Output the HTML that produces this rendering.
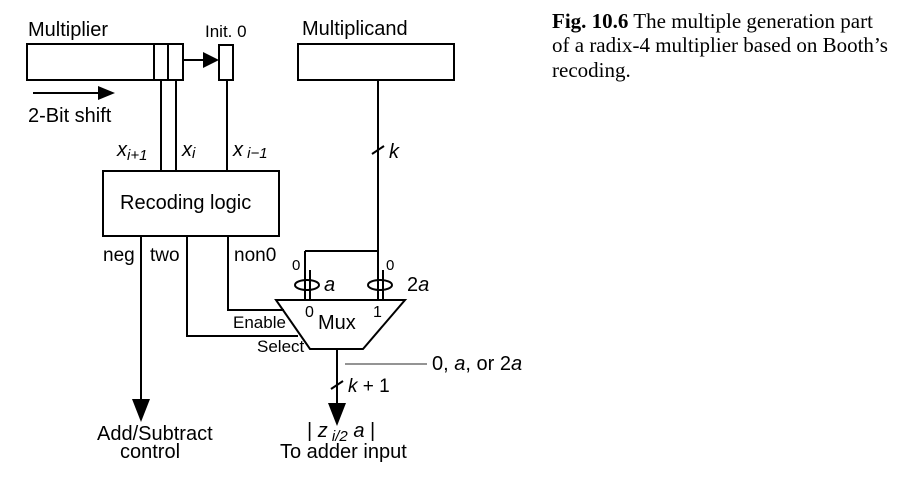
<!DOCTYPE html>
<html><head><meta charset="utf-8"><style>
body{margin:0;background:#fff;width:918px;height:473px;overflow:hidden}
svg text{font-family:"Liberation Sans",sans-serif;fill:#000}
.i{font-style:italic}
.cap{font-family:"Liberation Serif",serif;font-size:21px}
</style></head><body>
<svg width="918" height="473" viewBox="0 0 918 473" xmlns="http://www.w3.org/2000/svg">
<g fill="none" stroke="#000" stroke-width="2">
<rect x="27" y="44" width="156" height="36"/>
<line x1="154" y1="44" x2="154" y2="80"/>
<line x1="168" y1="44" x2="168" y2="80"/>
<rect x="219" y="45" width="14" height="35"/>
<line x1="183" y1="60" x2="205" y2="60"/>
<rect x="298" y="44" width="156" height="36"/>
<line x1="33" y1="93" x2="98" y2="93"/>
<line x1="161" y1="80" x2="161" y2="171"/>
<line x1="176" y1="80" x2="176" y2="171"/>
<line x1="227" y1="80" x2="227" y2="171"/>
<rect x="103" y="171" width="176" height="65"/>
<line x1="378" y1="80" x2="378" y2="300"/>
<line x1="305" y1="251" x2="378" y2="251"/>
<line x1="305" y1="251" x2="305" y2="300"/>
<line x1="310" y1="270" x2="310" y2="300"/>
<line x1="383" y1="270" x2="383" y2="300"/>
<line x1="141" y1="236" x2="141" y2="400"/>
<polyline points="187,236 187,336 298,336"/>
<polyline points="228,236 228,310 284,310"/>
<polygon points="276,300 405,300 363,349 310,349"/>
<line x1="337" y1="349" x2="337" y2="404"/>
<ellipse cx="307" cy="285" rx="12" ry="5"/>
<ellipse cx="380" cy="285" rx="12" ry="5"/>
<line x1="372" y1="154" x2="384" y2="146"/>
<line x1="331" y1="389" x2="343" y2="381"/>
</g>
<line x1="345" y1="364" x2="427" y2="364" stroke="#555" stroke-width="1.2"/>
<polygon points="98,86 115,93 98,100" fill="#000"/>
<polygon points="203,52 219,60 203,68" fill="#000"/>
<polygon points="132,399 150,399 141,422" fill="#000"/>
<polygon points="328,403 346,403 337,426" fill="#000"/>
<g font-size="20">
<text x="28" y="36">Multiplier</text>
<text x="205" y="37" font-size="17">Init. 0</text>
<text x="302" y="35">Multiplicand</text>
<text x="28" y="122">2-Bit shift</text>
<text x="120" y="209">Recoding logic</text>
<text x="103" y="261" font-size="19">neg</text>
<text x="150" y="261" font-size="19">two</text>
<text x="234" y="261" font-size="19">non0</text>
<text x="318" y="329">Mux</text>
<text x="233" y="328" font-size="17">Enable</text>
<text x="257" y="352" font-size="17">Select</text>
<text x="432" y="370">0, <tspan class="i">a</tspan>, or 2<tspan class="i">a</tspan></text>
<text x="97" y="440">Add/Subtract</text>
<text x="120" y="458">control</text>
<text x="280" y="458">To adder input</text>
<text x="307" y="437">| <tspan class="i">z</tspan><tspan font-size="15" class="i" dy="4"> i/2</tspan><tspan class="i" dy="-4"> a</tspan> |</text>
<text x="117" y="156" class="i">x<tspan font-size="15" dy="4">i+1</tspan></text>
<text x="182" y="156" class="i">x<tspan font-size="15" dy="2">i</tspan></text>
<text x="233" y="156" class="i">x<tspan font-size="15" dy="2"> i−1</tspan></text>
<text x="389" y="158" class="i">k</text>
<text x="348" y="392" font-size="19"><tspan class="i">k</tspan> + 1</text>
<text x="324" y="291" class="i">a</text>
<text x="407" y="291">2<tspan class="i">a</tspan></text>
<text x="292" y="270" font-size="15">0</text>
<text x="386" y="270" font-size="15">0</text>
<text x="305" y="317" font-size="16">0</text>
<text x="373" y="317" font-size="16">1</text>
</g>
<text class="cap" x="552" y="28"><tspan font-weight="bold">Fig. 10.6</tspan>    The multiple generation part</text>
<text class="cap" x="552" y="52">of a radix-4 multiplier based on Booth’s</text>
<text class="cap" x="552" y="77">recoding.</text>
</svg>
</body></html>
